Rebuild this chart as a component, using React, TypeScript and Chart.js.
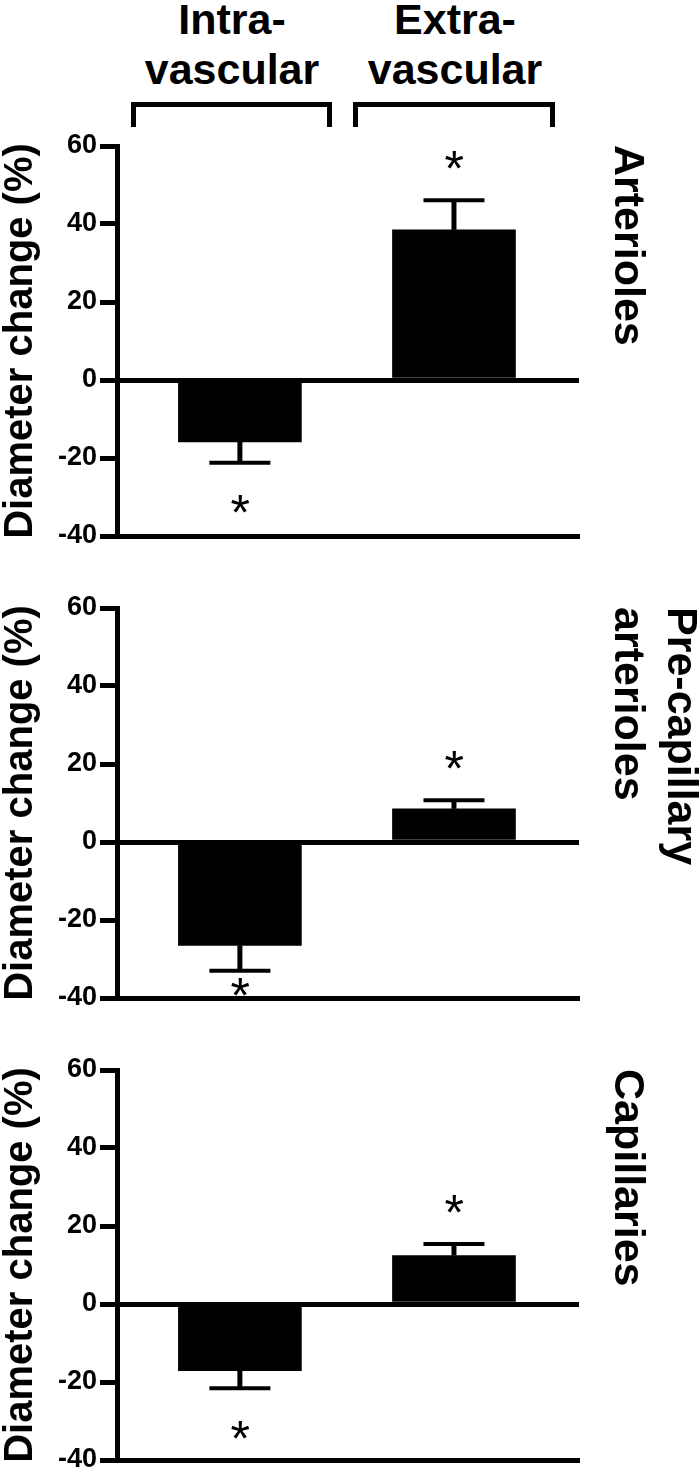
import React, { useEffect, useRef } from "react";
import { Chart, registerables } from "chart.js";

Chart.register(...registerables);

const FONT = '"Liberation Sans", Arial, Helvetica, sans-serif';

// ---- categories / labels ----
const groups = ["Intra-vascular", "Extra-vascular"];
const groupHeaderLines = [
  ["Intra-", "vascular"],
  ["Extra-", "vascular"],
];
const yTitle = "Diameter change (%)";
const yTickValues = [-40, -20, 0, 20, 40, 60];
const sigMark = "*";

// ---- Arterioles ----
const arteriolesNames = ["Arterioles"];
const arteriolesMean = [-15.9, 38.5];
const arteriolesErr = [5.3, 7.6];
const arteriolesStarAt = [-31.7, 56.5];

// ---- Pre-capillary arterioles ----
const precapNames = ["Pre-capillary", "arterioles"];
const precapMean = [-26.5, 8.5];
const precapErr = [6.5, 2.2];
const precapStarAt = [-37.1, 21.1];

// ---- Capillaries ----
const capillariesNames = ["Capillaries"];
const capillariesMean = [-17.1, 12.4];
const capillariesErr = [4.5, 3.0];
const capillariesStarAt = [-32.3, 25.6];

// layout constants
const X_MIN = -0.574;
const X_MAX = 1.584;
const CANVAS_W = 700;
const CANVAS_H = 430;
const panelTops = [126, 588, 1050];
const headerCenters = [232, 455];
const brackets = [
  [131, 332],
  [353, 555],
];

function makePlugin(mean: number[], err: number[], starAt: number[], names: string[]) {
  return {
    id: "panelExtras",
    afterDatasetsDraw(chart: any) {
      const ctx = chart.ctx;
      const xs = chart.scales.x;
      const ys = chart.scales.y;
      ctx.save();
      ctx.strokeStyle = "#000";
      ctx.fillStyle = "#000";
      mean.forEach((v, i) => {
        const dir = v >= 0 ? 1 : -1;
        const x = xs.getPixelForValue(i);
        const y0 = ys.getPixelForValue(v);
        const y1 = ys.getPixelForValue(v + dir * err[i]);
        ctx.lineWidth = 5;
        ctx.beginPath();
        ctx.moveTo(x, y0);
        ctx.lineTo(x, y1);
        ctx.stroke();
        ctx.lineWidth = 4;
        ctx.beginPath();
        ctx.moveTo(x - 30.5, y1);
        ctx.lineTo(x + 30.5, y1);
        ctx.stroke();

        // significance mark
        ctx.font = `normal 50px ${FONT}`;
        ctx.textAlign = "left";
        ctx.textBaseline = "alphabetic";
        const m = ctx.measureText(sigMark);
        const inkW = m.actualBoundingBoxRight + m.actualBoundingBoxLeft;
        const sx = x - inkW / 2 + m.actualBoundingBoxLeft;
        const sy = ys.getPixelForValue(starAt[i]) + (m.actualBoundingBoxAscent - m.actualBoundingBoxDescent) / 2;
        ctx.fillText(sigMark, sx, sy);
      });
      ctx.restore();
    },
    afterDraw(chart: any) {
      const { ctx, chartArea } = chart;
      ctx.save();
      ctx.fillStyle = "#000";
      ctx.font = `bold 43px ${FONT}`;
      ctx.textAlign = "left";
      ctx.textBaseline = "alphabetic";
      const n = names.length;
      names.forEach((line, i) => {
        const bx = chartArea.right + 36 + (n - 1 - i) * 53;
        ctx.save();
        ctx.translate(bx, chartArea.top - 1);
        ctx.rotate(Math.PI / 2);
        ctx.fillText(line, 0, 0);
        ctx.restore();
      });
      ctx.restore();
    },
  };
}

function Panel(props: { top: number; mean: number[]; err: number[]; starAt: number[]; names: string[] }) {
  const ref = useRef<HTMLCanvasElement>(null);
  const { top, mean, err, starAt, names } = props;
  useEffect(() => {
    const canvas = ref.current;
    if (!canvas) return;
    const chart = new Chart(canvas, {
      type: "bar",
      data: {
        labels: groups,
        datasets: [
          {
            label: names.join(" "),
            data: mean.map((v, i) => ({ x: i, y: v })),
            backgroundColor: "#000",
            borderWidth: 0,
            barThickness: 123,
          },
        ],
      },
      options: {
        animation: false,
        responsive: false,
        maintainAspectRatio: false,
        events: [],
        layout: { padding: { top: 20, right: CANVAS_W - 579, bottom: 0, left: 0 } },
        plugins: {
          legend: { display: false },
          tooltip: { enabled: false },
          title: { display: false },
        },
        scales: {
          x: {
            type: "linear",
            min: X_MIN,
            max: X_MAX,
            offset: false,
            position: "bottom",
            grid: { display: false, drawTicks: false },
            ticks: { display: false },
            border: { display: true, color: "#000", width: 5 },
            afterFit: (s: any) => {
              s.height = 20;
            },
          },
          y: {
            type: "linear",
            min: yTickValues[0],
            max: yTickValues[yTickValues.length - 1],
            afterBuildTicks: (s: any) => {
              s.ticks = yTickValues.map((v) => ({ value: v }));
            },
            ticks: {
              color: "#000",
              font: { family: FONT, size: 27, weight: "bold" },
              padding: 3,
            },
            grid: {
              color: (c: any) => (c.tick && c.tick.value === 0 ? "#000" : "rgba(0,0,0,0)"),
              lineWidth: 5,
              tickColor: "#000",
              tickLength: 17,
              tickWidth: 5,
              drawOnChartArea: true,
            },
            border: { display: true, color: "#000", width: 5 },
            title: {
              display: true,
              text: yTitle,
              color: "#000",
              font: { family: FONT, size: 40, weight: "bold", lineHeight: 1 },
              padding: { top: 1, bottom: 0 },
            },
            afterFit: (s: any) => {
              s.width = 117;
            },
          },
        },
      } as any,
      plugins: [makePlugin(mean, err, starAt, names)],
    } as any);
    return () => chart.destroy();
  }, []);
  return (
    <canvas
      ref={ref}
      width={CANVAS_W}
      height={CANVAS_H}
      style={{ position: "absolute", left: 0, top, width: CANVAS_W, height: CANVAS_H, display: "block" }}
    />
  );
}

export default function App() {
  return (
    <div
      style={{
        position: "absolute",
        left: 0,
        top: 0,
        width: 700,
        height: 1473,
        overflow: "hidden",
        background: "#fff",
        fontFamily: FONT,
      }}
    >
      {groupHeaderLines.map((lines, i) => (
        <div
          key={"h" + i}
          style={{
            position: "absolute",
            left: headerCenters[i] - 120,
            width: 240,
            top: -6,
            textAlign: "center",
            fontFamily: FONT,
            fontWeight: "bold",
            fontSize: 43,
            lineHeight: "50px",
            color: "#000",
          }}
        >
          {lines.map((l, j) => (
            <div key={j}>{l}</div>
          ))}
        </div>
      ))}
      {brackets.map(([a, b], i) => (
        <div
          key={"b" + i}
          style={{
            position: "absolute",
            left: a,
            top: 102,
            width: b - a,
            height: 25,
            boxSizing: "border-box",
            borderTop: "5px solid #000",
            borderLeft: "5px solid #000",
            borderRight: "5px solid #000",
          }}
        />
      ))}
      <Panel top={panelTops[0]} mean={arteriolesMean} err={arteriolesErr} starAt={arteriolesStarAt} names={arteriolesNames} />
      <Panel top={panelTops[1]} mean={precapMean} err={precapErr} starAt={precapStarAt} names={precapNames} />
      <Panel top={panelTops[2]} mean={capillariesMean} err={capillariesErr} starAt={capillariesStarAt} names={capillariesNames} />
    </div>
  );
}
